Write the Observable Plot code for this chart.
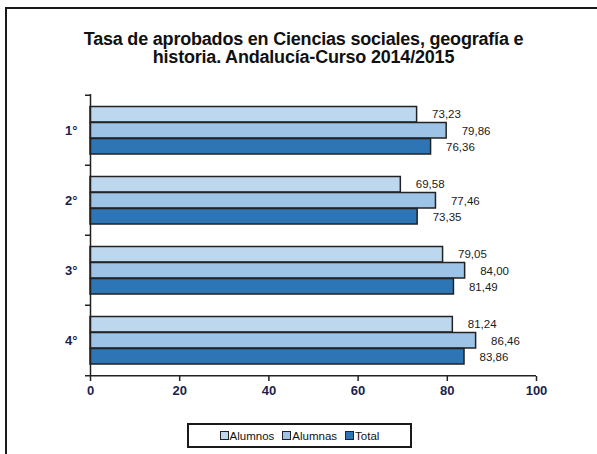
<!DOCTYPE html>
<html>
<head>
<meta charset="utf-8">
<script src="https://cdn.jsdelivr.net/npm/d3@7"></script>
<script src="https://cdn.jsdelivr.net/npm/@observablehq/plot@0.6"></script>
<style>
  html, body { margin: 0; padding: 0; background: #fff; }
  #wrap { position: relative; width: 597px; height: 454px; overflow: hidden; font-family: "Liberation Sans", Arial, sans-serif; }
  #border { position: absolute; left: 5px; top: 7px; width: 600px; height: 460px; border-top: 2px solid #1a1a1a; border-left: 2px solid #1a1a1a; }
  #title { position: absolute; left: 5px; width: 597px; top: 30px; text-align: center; font-weight: bold; font-size: 18px; line-height: 18px; color: #111; letter-spacing: -0.2px; }
  #chart { position: absolute; left: 0; top: 80px; }
  #legend { position: absolute; left: 187px; top: 423px; width: 221px; height: 21px; border: 2px solid #1a1a1a; font-size: 11.5px; color: #111; display: flex; align-items: center; justify-content: center; gap: 8px; }
  #legend span.sw { display: inline-block; width: 7px; height: 7px; border: 1px solid #222; margin-right: 1px; vertical-align: -0px; }
</style>
</head>
<body>
<div id="wrap">
  <div id="border"></div>
  <div id="title">Tasa de aprobados en Ciencias sociales, geografía e<br>historia. Andalucía-Curso 2014/2015</div>
  <div id="chart"></div>
  <div id="legend"></div>
</div>
<script>
const courses = ["1°", "2°", "3°", "4°"];
const series = ["Alumnos", "Alumnas", "Total"];
const alumnos = [73.23, 69.58, 79.05, 81.24];
const alumnas = [79.86, 77.46, 84.00, 86.46];
const total = [76.36, 73.35, 81.49, 83.86];
const xTicks = [0, 20, 40, 60, 80, 100];
const colors = ["#bdd7ee", "#9dc3e6", "#2e75b6"];

const values = [alumnos, alumnas, total];
const data = [];
series.forEach((s, si) => courses.forEach((c, ci) => data.push({course: c, series: s, si, value: values[si][ci]})));

const W = 597, H = 330, mT = 14, mB = 34, mL = 90, mR = 61;
const bw = (H - mT - mB) / courses.length;
const barH = 16, topPad = 11.5;
const fmt = v => v.toFixed(2).replace(".", ",");
const labelDy = [-16.5, 0.5, 17];

const marks = [];
series.forEach((s, si) => {
  const insetTop = topPad + barH * si;
  const insetBottom = bw - insetTop - barH;
  marks.push(Plot.barX(data.filter(d => d.si === si), {
    x: "value", y: "course", fill: colors[si], stroke: "#222", strokeWidth: 1.5,
    insetTop, insetBottom
  }));
  marks.push(Plot.text(data.filter(d => d.si === si), {
    x: "value", y: "course", text: d => fmt(d.value), textAnchor: "start",
    dx: 15, dy: labelDy[si], fontSize: 11.5, fill: "#1a1a1a"
  }));
});
// vertical axis line and boundary ticks
marks.push(Plot.ruleX([0], {stroke: "#222", strokeWidth: 1.5}));
marks.push(Plot.ruleY(courses, {y: d => d, x1: 0, x2: 0, insetLeft: -5, dy: -bw / 2, stroke: "#222", strokeWidth: 1.5}));
marks.push(Plot.ruleY(courses.slice(-1), {y: d => d, x1: 0, x2: 0, insetLeft: -5, dy: bw / 2, stroke: "#222", strokeWidth: 1.5}));
marks.push(Plot.ruleY(courses.slice(-1), {y: d => d, x1: 0, x2: 100, dy: bw / 2, stroke: "#222", strokeWidth: 1.5}));
marks.push(Plot.axisX({ticks: xTicks, tickSize: 5, tickPadding: 4, fontSize: 13, fontWeight: "bold", fill: "#1a1f4d", stroke: "#222", strokeWidth: 1.5, label: null, tickFormat: d => String(d)}));
marks.push(Plot.axisY({tickSize: 0, tickPadding: 13, fontSize: 13, fontWeight: "bold", fill: "#1a1f4d", label: null}));

const chart = Plot.plot({
  width: W, height: H,
  marginTop: mT, marginBottom: mB, marginLeft: mL, marginRight: mR,
  style: {fontFamily: "'Liberation Sans', Arial, sans-serif", background: "transparent", overflow: "visible"},
  x: {domain: [0, 100]},
  y: {domain: courses, padding: 0},
  marks
});
document.getElementById("chart").appendChild(chart);

const legend = document.getElementById("legend");
series.forEach((s, i) => {
  const item = document.createElement("span");
  item.innerHTML = `<span class="sw" style="background:${colors[i]}"></span>${s}`;
  legend.appendChild(item);
});
</script>
</body>
</html>
